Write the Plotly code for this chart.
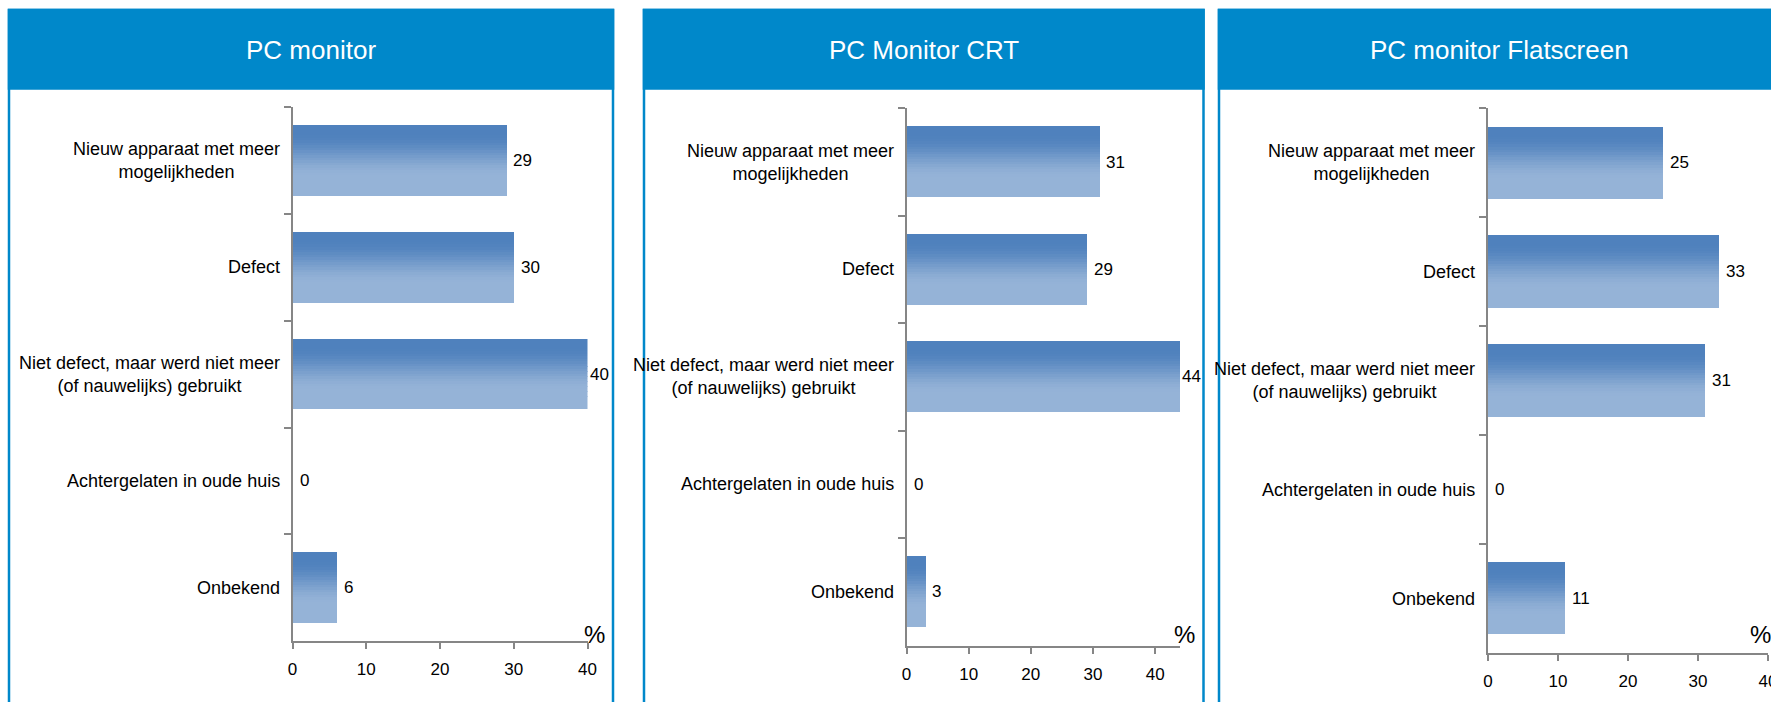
import plotly.graph_objects as go

# ---- data ---------------------------------------------------------------
categories = [
    "Nieuw apparaat met meer<br>mogelijkheden",
    "Defect",
    "Niet defect, maar werd niet meer<br>(of nauwelijks) gebruikt",
    "Achtergelaten in oude huis",
    "Onbekend",
]
panel_titles = ["PC monitor", "PC Monitor CRT", "PC monitor Flatscreen"]
pc_monitor = [29, 30, 40, 0, 6]
pc_monitor_crt = [31, 29, 44, 0, 3]
pc_monitor_flatscreen = [25, 33, 31, 0, 11]
x_tick_values = [0, 10, 20, 30, 40]
x_axis_max = [40, 44, 40]
unit_label = "%"

series = [pc_monitor, pc_monitor_crt, pc_monitor_flatscreen]

# ---- layout geometry (pixels of the 1771x702 page) -----------------------
W, H = 1771, 702
BLUE = "#0088CA"
AXIS_GREY = "#868686"
FONT = "Liberation Sans, Arial, sans-serif"

# panel frame left/right, plot area x0/x1 and top/bottom
panels = [
    dict(left=9, right=613, x0=292.5, x1=587.5, top=107.3, bottom=641.0),
    dict(left=644, right=1203.5, x0=906.5, x1=1180.0, top=108.3, bottom=645.5),
    dict(left=1219, right=1779, x0=1488.0, x1=1768.0, top=108.3, bottom=653.0),
]
HEADER_TOP, HEADER_BOTTOM = 10, 88.5

BAR_W = 0.66
N_SLICES = 28  # bars are built from thin slices to fake the vertical gradient


def px_x(v):
    return v / W


def px_y(v):
    return 1 - v / H


def shade(t):
    # dark blue at the top of a bar, fading to light blue at the bottom
    s = min(max((t - 0.12) / 0.62, 0.0), 1.0)
    s = s * s * (3 - 2 * s)
    top, bot = (79, 129, 189), (149, 179, 215)
    return "rgb(%d,%d,%d)" % tuple(round(a + (b - a) * s) for a, b in zip(top, bot))


fig = go.Figure()
shapes, annotations = [], []

for i, (vals, p) in enumerate(zip(series, panels)):
    n = "" if i == 0 else str(i + 1)
    xa, ya = "x" + n, "y" + n

    for k in range(N_SLICES):
        fig.add_trace(go.Bar(
            x=vals, y=categories, orientation="h",
            width=BAR_W / N_SLICES * 1.08,
            offset=-BAR_W / 2 + k * BAR_W / N_SLICES,
            marker=dict(color=shade((k + 0.5) / N_SLICES), line=dict(width=0)),
            xaxis=xa, yaxis=ya, hoverinfo="skip", showlegend=False,
        ))

    # automargin off: the template would otherwise shrink the plot to fit the last tick label
    fig.update_layout({
        "xaxis" + n: dict(
            domain=[px_x(p["x0"]), px_x(p["x1"])], range=[0, x_axis_max[i]],
            anchor=ya, tickvals=x_tick_values, ticks="outside", ticklen=6,
            tickwidth=1.5, tickcolor=AXIS_GREY, showline=True,
            linecolor=AXIS_GREY, linewidth=2, showgrid=False, zeroline=False,
            tickfont=dict(size=17, color="#000"), ticklabelstandoff=6,
            ticklabeloverflow="allow", automargin=False, fixedrange=True,
        ),
        "yaxis" + n: dict(
            domain=[px_y(p["bottom"]), px_y(p["top"])], type="category",
            categoryorder="array", categoryarray=categories,
            range=[len(categories) - 0.5, -0.5], anchor=xa,
            tickson="boundaries", ticks="outside", ticklen=7, tickwidth=1.5,
            tickcolor=AXIS_GREY, showticklabels=False, showline=True,
            linecolor=AXIS_GREY, linewidth=2, showgrid=False, zeroline=False,
            automargin=False, fixedrange=True,
        ),
    })

    # panel frame and blue header
    shapes.append(dict(
        type="rect", xref="paper", yref="paper", layer="below",
        x0=px_x(p["left"]), x1=px_x(p["right"]),
        y0=px_y(HEADER_TOP), y1=px_y(H + 20),
        fillcolor="white", line=dict(color=BLUE, width=2.5),
    ))
    shapes.append(dict(
        type="rect", xref="paper", yref="paper", layer="below",
        x0=px_x(p["left"]), x1=px_x(p["right"]),
        y0=px_y(HEADER_TOP), y1=px_y(HEADER_BOTTOM),
        fillcolor=BLUE, line=dict(color=BLUE, width=2.5),
    ))
    annotations.append(dict(
        xref="paper", yref="paper", x=px_x((p["left"] + p["right"]) / 2),
        y=px_y(50), xanchor="center", yanchor="middle", showarrow=False,
        text=panel_titles[i], font=dict(size=26, color="white"),
    ))
    annotations.append(dict(
        xref="paper", yref="paper", x=px_x(p["right"] - 19), y=px_y(634),
        xanchor="center", yanchor="middle", showarrow=False,
        text=unit_label, font=dict(size=24, color="#000"),
    ))

    for cat, v in zip(categories, vals):
        annotations.append(dict(
            xref=xa + " domain", yref=ya, x=0, y=cat, xanchor="right",
            xshift=-11, showarrow=False, align="center", text=cat,
            font=dict(size=18, color="#000"),
        ))
        annotations.append(dict(
            xref=xa, yref=ya, x=v, y=cat, xanchor="left",
            xshift=0 if v >= x_axis_max[i] else 5, showarrow=False,
            text=str(v), font=dict(size=17, color="#000"),
        ))

fig.update_layout(
    width=W, height=H, autosize=False,
    margin=dict(l=0, r=0, t=0, b=0),
    paper_bgcolor="white", plot_bgcolor="rgba(0,0,0,0)",
    barmode="overlay", bargap=0,
    font=dict(family=FONT, color="#000"),
    shapes=shapes, annotations=annotations,
)

# the page body has a default 8px margin; pin the figure to the top-left corner
page_fix = (
    "document.body.style.margin = '0';"
    "document.documentElement.style.overflow = 'hidden';"
    "document.body.style.overflow = 'hidden';"
)
fig.write_html("out.html", post_script=page_fix, config={"displayModeBar": False})
